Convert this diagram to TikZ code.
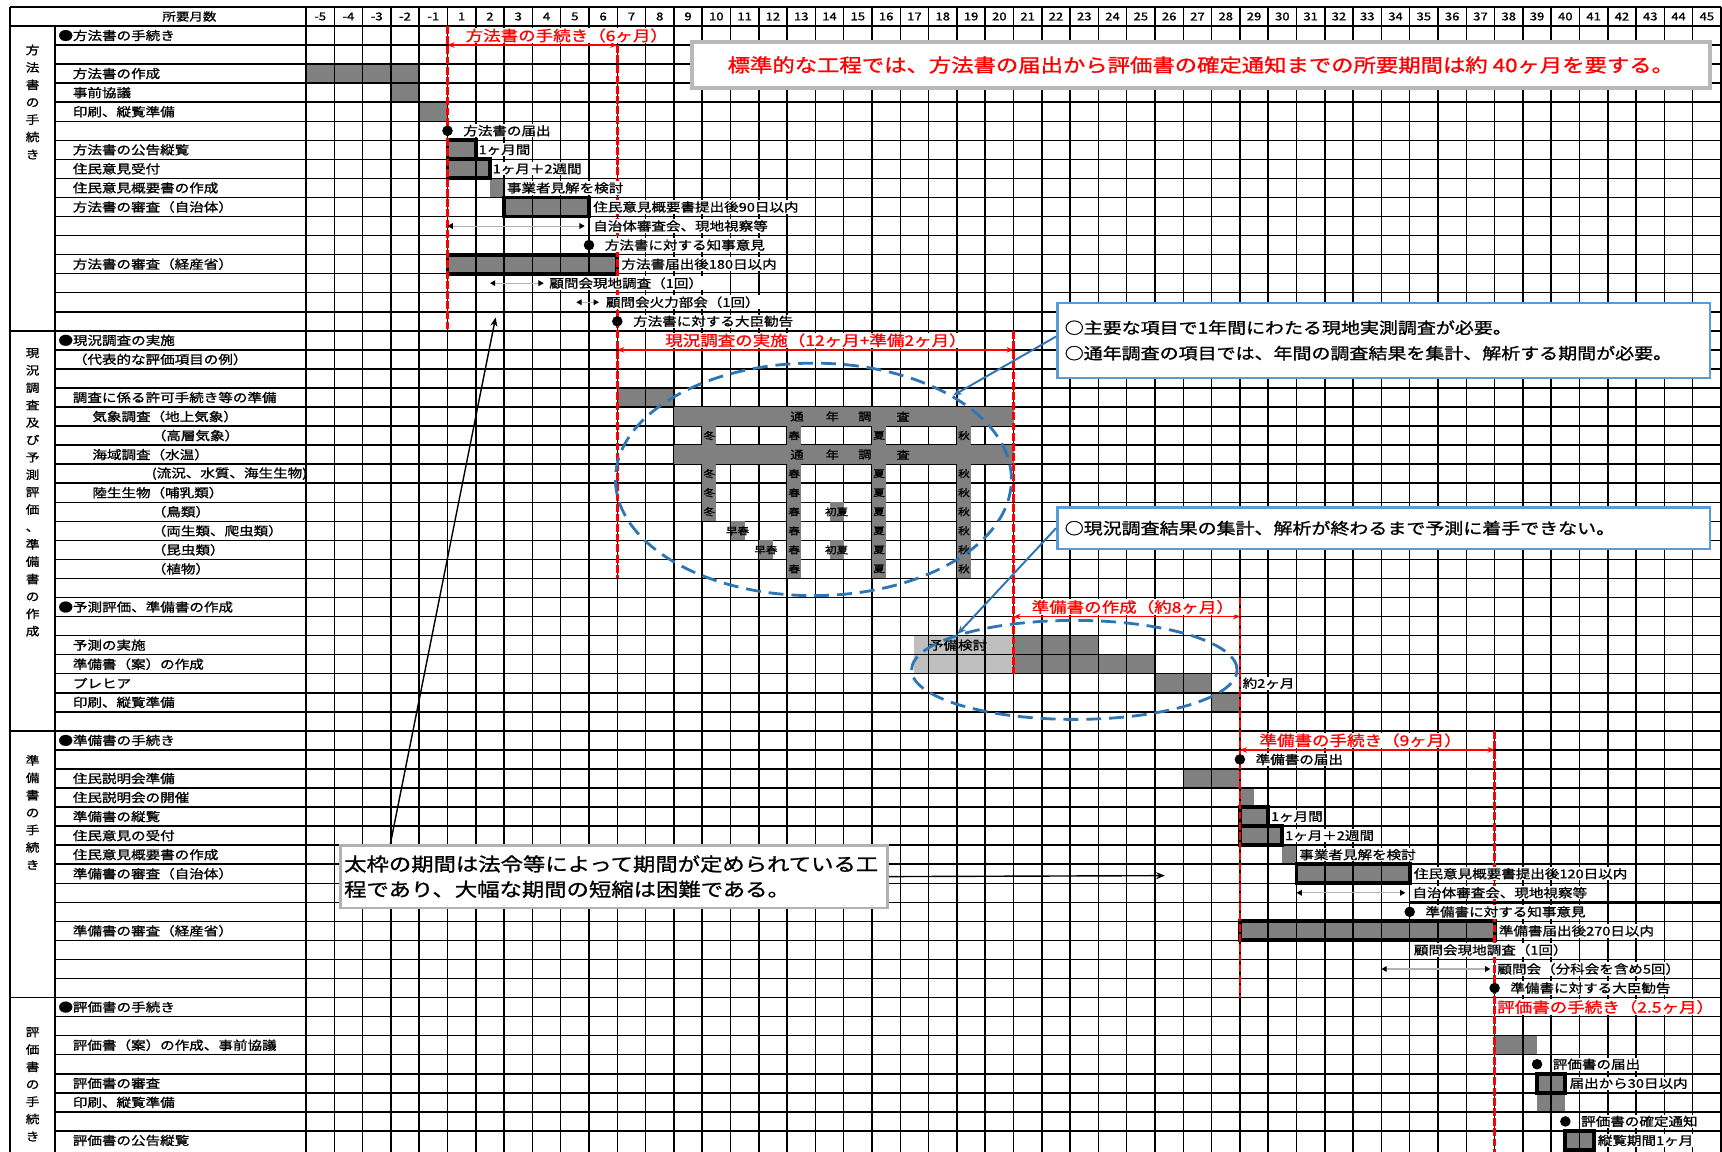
\documentclass[tikz,border=0pt]{standalone}
\usepackage{fontspec}
\setmainfont[FakeStretch=1.2,FakeBold=1.2]{Noto Sans CJK JP}
\usetikzlibrary{positioning,arrows.meta,calc,shapes.geometric}
\definecolor{bargray}{RGB}{128,128,128}
\definecolor{pregray}{RGB}{191,191,191}
\definecolor{mred}{RGB}{255,0,0}
\definecolor{lineblue}{RGB}{46,117,182}
\definecolor{frameblue}{RGB}{91,155,213}

\begin{document}
\begin{tikzpicture}[
  x=0.566cm, y=0.381cm,
  font=\fontsize{6.9}{8}\selectfont,
  gridl/.style={line width=0.85pt},
  hdr/.style={font=\fontsize{6.2}{7}\selectfont, inner sep=0pt},
  lbl/.style={anchor=west, inner sep=0pt},
  sec/.style={align=center, inner sep=0pt, font=\fontsize{6.5}{9.9}\selectfont},
  ann/.style={anchor=west, fill=white, inner sep=0.6pt},
  thickbar/.style={draw=black, line width=2.2pt},
  dot/.style={circle, fill=black, inner sep=0pt, minimum size=6pt},
  span/.style={draw=gray!60, line width=0.6pt, {Triangle[black,width=3.2pt,length=3pt]}-{Triangle[black,width=3.2pt,length=3pt]}},
  redline/.style={draw=mred, line width=1.4pt, dash pattern=on 4.5pt off 1.3pt},
  redarrow/.style={draw=mred, line width=0.8pt, {Stealth[length=4pt,width=3.2pt]}-{Stealth[length=4pt,width=3.2pt]}},
  redtitle/.style={anchor=west, text=mred, fill=white, inner sep=0.5pt, font=\fontsize{8.3}{9}\selectfont},
  season/.style={font=\fontsize{5.5}{6}\selectfont, inner sep=0pt},
  survey/.style={ellipse, draw=lineblue, line width=1.6pt, dash pattern=on 8.5pt off 4.5pt, inner sep=0pt},
  callbox/.style={draw=frameblue, line width=1.4pt, fill=white, align=left, font=\fontsize{9}{14.5}\selectfont},
  callline/.style={draw=lineblue, line width=1.1pt, -{Stealth[length=5pt,width=4pt]}},
  notebox/.style={draw=gray!60, line width=1.6pt, fill=white, align=left, inner sep=2pt, font=\fontsize{10.6}{14.4}\selectfont},
  noteline/.style={line width=0.8pt, -{Stealth[length=5pt,width=4pt]}}
]
\useasboundingbox (-10.8127,1.3648) rectangle (50.035,-59.055);
\fill[white] (-10.8127,1.3648) rectangle (50.035,-59.055);

% bars under the grid
\fill[bargray] (0,-2) rectangle (4,-3);
\fill[bargray] (3,-3) rectangle (4,-4);
\fill[bargray] (4,-4) rectangle (5,-5);
\fill[bargray] (5,-6) rectangle (6,-7);
\fill[bargray] (5,-7) rectangle (6.5,-8);
\fill[bargray] (6.5,-8) rectangle (7,-9);
\fill[bargray] (7,-9) rectangle (10,-10);
\fill[bargray] (5,-12) rectangle (11,-13);
\fill[bargray] (11,-19) rectangle (13,-20);
\fill[pregray] (21.5,-32) rectangle (25,-34);
\fill[bargray] (25,-32) rectangle (28,-33);
\fill[bargray] (25,-33) rectangle (30,-34);
\fill[bargray] (30,-34) rectangle (32,-35);
\fill[bargray] (32,-35) rectangle (33,-36);
\fill[bargray] (31,-39) rectangle (33,-40);
\fill[bargray] (33,-40) rectangle (33.5,-41);
\fill[bargray] (33,-41) rectangle (34,-42);
\fill[bargray] (33,-42) rectangle (34.5,-43);
\fill[bargray] (34.5,-43) rectangle (35,-44);
\fill[bargray] (35,-44) rectangle (39,-45);
\fill[bargray] (33,-47) rectangle (42,-48);
\fill[bargray] (42,-53) rectangle (43.5,-54);
\fill[bargray] (43.5,-55) rectangle (44.5,-57);
\fill[bargray] (44.5,-58) rectangle (45.5,-59);

% grid
\foreach \i in {0,...,50} \draw[gridl] (\i,1) -- (\i,-59.2);
\foreach \r in {1,...,58} \draw[gridl] (-8.87,-\r) -- (50,-\r);
\foreach \r in {16,37,51} \draw[gridl] (-10.46,-\r) -- (50,-\r);
\draw[gridl] (-10.46,1) -- (50,1);
\draw[gridl] (-10.46,0) -- (50,0);
\draw[gridl] (-10.46,1) -- (-10.46,-59.2);
\draw[gridl] (-8.87,0) -- (-8.87,-59.2);
\draw[line width=1.6pt] (39,-46) -- (50,-46);

% header
\node[hdr, font=\fontsize{6.4}{7}\selectfont] (hlabel) at (-4.12,0.5) {所要月数};
\foreach \i in {0,...,49} {
  \pgfmathtruncatemacro{\m}{\i<5 ? \i-5 : \i-4}
  \node[hdr] (h\i) at (\i+0.5,0.5) {\m};
}

% section labels
\node[sec] (s1) at (-9.66,-3.99) {方\\法\\書\\の\\手\\続\\き};
\node[sec] (s2) at (-9.66,-24.48) {現\\況\\調\\査\\及\\び\\予\\測\\評\\価\\、\\準\\備\\書\\の\\作\\成};
\node[sec] (s3) at (-9.66,-41.28) {準\\備\\書\\の\\手\\続\\き};
\node[sec] (s4) at (-9.66,-55.55) {評\\価\\書\\の\\手\\続\\き};

% row labels
\node[lbl] (r1) at (-8.76,-0.5) {●方法書の手続き};
\node[lbl] (r3) at (-8.25,-2.5) {方法書の作成};
\node[lbl] (r4) at (-8.25,-3.5) {事前協議};
\node[lbl] (r5) at (-8.25,-4.5) {印刷、縦覧準備};
\node[lbl] (r7) at (-8.25,-6.5) {方法書の公告縦覧};
\node[lbl] (r8) at (-8.25,-7.5) {住民意見受付};
\node[lbl] (r9) at (-8.25,-8.5) {住民意見概要書の作成};
\node[lbl] (r10) at (-8.25,-9.5) {方法書の審査（自治体）};
\node[lbl] (r13) at (-8.25,-12.5) {方法書の審査（経産省）};
\node[lbl] (r17) at (-8.76,-16.5) {●現況調査の実施};
\node[lbl] (r18) at (-8.25,-17.5) {（代表的な評価項目の例）};
\node[lbl] (r20) at (-8.25,-19.5) {調査に係る許可手続き等の準備};
\node[lbl] (r21) at (-7.56,-20.5) {気象調査（地上気象）};
\node[lbl] (r22) at (-5.46,-21.5) {（高層気象）};
\node[lbl] (r23) at (-7.56,-22.5) {海域調査（水温）};
\node[lbl] (r24) at (-5.46,-23.5) {(流況、水質、海生生物)};
\node[lbl] (r25) at (-7.56,-24.5) {陸生生物（哺乳類）};
\node[lbl] (r26) at (-5.46,-25.5) {（鳥類）};
\node[lbl] (r27) at (-5.46,-26.5) {（両生類、爬虫類）};
\node[lbl] (r28) at (-5.46,-27.5) {（昆虫類）};
\node[lbl] (r29) at (-5.46,-28.5) {（植物）};
\node[lbl] (r31) at (-8.76,-30.5) {●予測評価、準備書の作成};
\node[lbl] (r33) at (-8.25,-32.5) {予測の実施};
\node[lbl] (r34) at (-8.25,-33.5) {準備書（案）の作成};
\node[lbl] (r35) at (-8.25,-34.5) {プレヒア};
\node[lbl] (r36) at (-8.25,-35.5) {印刷、縦覧準備};
\node[lbl] (r38) at (-8.76,-37.5) {●準備書の手続き};
\node[lbl] (r40) at (-8.25,-39.5) {住民説明会準備};
\node[lbl] (r41) at (-8.25,-40.5) {住民説明会の開催};
\node[lbl] (r42) at (-8.25,-41.5) {準備書の縦覧};
\node[lbl] (r43) at (-8.25,-42.5) {住民意見の受付};
\node[lbl] (r44) at (-8.25,-43.5) {住民意見概要書の作成};
\node[lbl] (r45) at (-8.25,-44.5) {準備書の審査（自治体）};
\node[lbl] (r48) at (-8.25,-47.5) {準備書の審査（経産省）};
\node[lbl] (r52) at (-8.76,-51.5) {●評価書の手続き};
\node[lbl] (r54) at (-8.25,-53.5) {評価書（案）の作成、事前協議};
\node[lbl] (r56) at (-8.25,-55.5) {評価書の審査};
\node[lbl] (r57) at (-8.25,-56.5) {印刷、縦覧準備};
\node[lbl] (r59) at (-8.25,-58.5) {評価書の公告縦覧};

% survey bars over the grid
\fill[bargray] (13,-20) rectangle (25,-21);
\fill[bargray] (13,-22) rectangle (25,-23);
\foreach \yy in {21,23}
  \foreach \xx/\ch [count=\k] in {17.35/通,18.6/年,19.75/調,21.1/査}
    \node[season, font=\fontsize{6.3}{7}\selectfont] (yr\yy\k) at (\xx,-\yy+0.5) {\ch};
\foreach \r/\x/\ch [count=\k] in {22/14/冬,22/17/春,22/20/夏,22/23/秋,
    24/14/冬,24/17/春,24/20/夏,24/23/秋,25/14/冬,25/17/春,25/20/夏,25/23/秋,
    26/14/冬,26/17/春,26/18.5/初夏,26/20/夏,26/23/秋,
    27/15/早春,27/17/春,27/20/夏,27/23/秋,
    28/16/早春,28/17/春,28/18.5/初夏,28/20/夏,28/23/秋,
    29/17/春,29/20/夏,29/23/秋} {
  \fill[bargray] (\x,-\r+1) rectangle (\x+0.5,-\r);
  \node[season] (sc\k) at (\x+0.25,-\r+0.5) {\ch};
}

% statutory periods
\draw[thickbar] (5,-6) rectangle (6,-7);
\draw[thickbar] (5,-7) rectangle (6.5,-8);
\draw[thickbar] (7,-9) rectangle (10,-10);
\draw[thickbar] (5,-12) rectangle (11,-13);
\draw[thickbar] (33,-41) rectangle (34,-42);
\draw[thickbar] (33,-42) rectangle (34.5,-43);
\draw[thickbar] (35,-44) rectangle (39,-45);
\draw[thickbar] (33,-47) rectangle (42,-48);
\draw[thickbar] (43.5,-55) rectangle (44.5,-56);
\draw[thickbar] (44.5,-58) rectangle (45.5,-59);

% red phase marks
\draw[redline] (5,0) -- (5,-16);
\draw[redline] (11,-1) -- (11,-29);
\draw[redline] (25,-16) -- (25,-34);
\draw[redline] (33,-30) -- (33,-51);
\draw[redline] (42,-37) -- (42,-59.2);
\draw[redarrow] (5,-1) -- (11,-1);
\draw[redarrow] (11,-17) -- (25,-17);
\draw[redarrow] (25,-31) -- (33,-31);
\draw[redarrow] (33,-38) -- (42,-38);
\node[redtitle] (p1) at (5.6,-0.5) {方法書の手続き（6ヶ月）};
\node[redtitle] (p2) at (12.65,-16.5) {現況調査の実施（12ヶ月+準備2ヶ月）};
\node[redtitle] (p3) at (25.6,-30.5) {準備書の作成（約8ヶ月）};
\node[redtitle] (p4) at (33.65,-37.5) {準備書の手続き（9ヶ月）};
\node[redtitle] (p5) at (42.05,-51.5) {評価書の手続き（2.5ヶ月）};

% milestones and notes
\node[dot] (m1) at (5,-5.5) {};
\node[ann, right=5pt of m1] (m1t) {方法書の届出};
\node[ann] (t7) at (6.05,-6.5) {1ヶ月間};
\node[ann] (t8) at (6.55,-7.5) {1ヶ月＋2週間};
\node[ann] (t9) at (7.05,-8.5) {事業者見解を検討};
\node[ann] (t10) at (10.1,-9.5) {住民意見概要書提出後90日以内};
\draw[span] (5,-10.5) -- (9.85,-10.5);
\node[ann] (t11) at (10.1,-10.5) {自治体審査会、現地視察等};
\node[dot] (m2) at (10,-11.5) {};
\node[ann, right=5pt of m2] (m2t) {方法書に対する知事意見};
\node[ann] (t13) at (11.1,-12.5) {方法書届出後180日以内};
\draw[span] (6.5,-13.5) -- (8.4,-13.5);
\node[ann] (t14) at (8.55,-13.5) {顧問会現地調査（1回）};
\draw[span] (9.55,-14.5) -- (10.35,-14.5);
\node[ann] (t15) at (10.55,-14.5) {顧問会火力部会（1回）};
\node[dot] (m3) at (11,-15.5) {};
\node[ann, right=5pt of m3] (m3t) {方法書に対する大臣勧告};
\node[lbl] (t33) at (22.0,-32.5) {予備検討};
\node[ann] (t35) at (33.05,-34.5) {約2ヶ月};
\node[dot] (m4) at (33,-38.5) {};
\node[ann, right=5pt of m4] (m4t) {準備書の届出};
\node[ann] (t42) at (34.05,-41.5) {1ヶ月間};
\node[ann] (t43) at (34.55,-42.5) {1ヶ月＋2週間};
\node[ann] (t44) at (35.05,-43.5) {事業者見解を検討};
\node[ann] (t45) at (39.1,-44.5) {住民意見概要書提出後120日以内};
\draw[span] (35,-45.5) -- (38.85,-45.5);
\node[ann] (t46) at (39.05,-45.5) {自治体審査会、現地視察等};
\node[dot] (m5) at (39,-46.5) {};
\node[ann, right=5pt of m5] (m5t) {準備書に対する知事意見};
\node[ann] (t48) at (42.1,-47.5) {準備書届出後270日以内};
\node[ann] (t49) at (39.1,-48.5) {顧問会現地調査（1回）};
\draw[span] (38,-49.5) -- (41.85,-49.5);
\node[ann] (t50) at (42.05,-49.5) {顧問会（分科会を含め5回）};
\node[dot] (m6) at (42,-50.5) {};
\node[ann, right=5pt of m6] (m6t) {準備書に対する大臣勧告};
\node[dot] (m7) at (43.5,-54.5) {};
\node[ann, right=5pt of m7] (m7t) {評価書の届出};
\node[ann] (t56) at (44.6,-55.5) {届出から30日以内};
\node[dot] (m8) at (44.5,-57.5) {};
\node[ann, right=5pt of m8] (m8t) {評価書の確定通知};
\node[ann] (t59) at (45.6,-58.5) {縦覧期間1ヶ月};

% callouts
\node[draw=gray!55, line width=2.2pt, fill=white, minimum width=20.35cm, minimum height=0.93cm, text=mred, font=\fontsize{10.6}{12}\selectfont] (keybox) at (31.62,-2.045) {標準的な工程では、方法書の届出から評価書の確定通知までの所要期間は約 40ヶ月を要する。};
\node[survey, minimum width=7.92cm, minimum height=4.65cm] (surv) at (17.93,-23.8) {};
\node[survey, minimum width=6.51cm, minimum height=1.98cm] (prep) at (27.15,-33.8) {};
\node[callbox, minimum width=13.05cm, minimum height=1.5cm, text width=12.75cm] (callA) at (38.075,-16.505) {○主要な項目で1年間にわたる現地実測調査が必要。\\○通年調査の項目では、年間の調査結果を集計、解析する期間が必要。};
\node[callbox, minimum width=13.05cm, minimum height=0.83cm, text width=12.75cm] (callB) at (38.075,-26.36) {○現況調査結果の集計、解析が終わるまで予測に着手できない。};
\draw[callline] ($(callA.north west)!0.45!(callA.south west)$) -- (surv.31);
\draw[callline] (callB.west) -- (prep.163);
\node[notebox, minimum width=10.91cm, minimum height=1.257cm, text width=10.8cm] (note) at (10.89,-44.65) {太枠の期間は法令等によって期間が定められている工\\程であり、大幅な期間の短縮は困難である。};
\coordinate (tipA) at (6.7,-15.3);
\coordinate (tipB) at (30.35,-44.6);
\draw[noteline] ($(note.north west)!0.093!(note.north east)$) -- (tipA);
\draw[noteline] (note.east) -- (tipB);
\end{tikzpicture}
\end{document}
